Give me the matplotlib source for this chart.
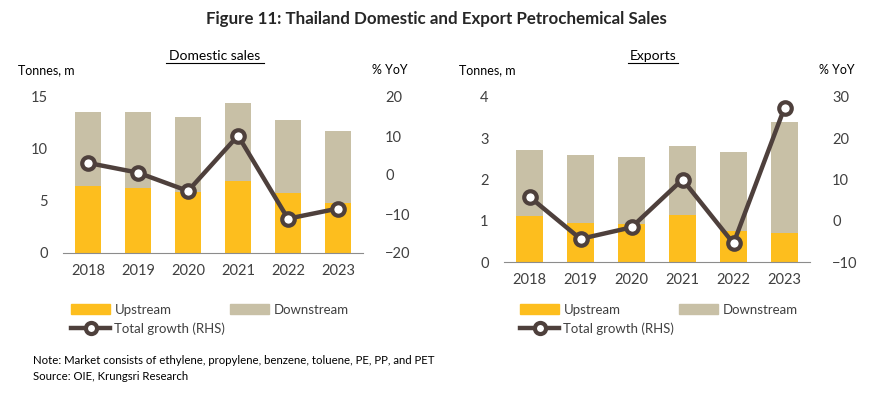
import matplotlib
matplotlib.use('Agg')
import matplotlib.pyplot as plt
from matplotlib.lines import Line2D
from matplotlib.patches import Patch
import numpy as np

plt.rcParams['font.family'] = ['Lato', 'DejaVu Sans']

years = ['2018', '2019', '2020', '2021', '2022', '2023']

# Domestic sales (tonnes, m) and growth (% YoY)
dom_total = [13.55, 13.6, 13.1, 14.4, 12.8, 11.7]
dom_up = [6.45, 6.25, 5.9, 6.9, 5.8, 4.8]
dom_growth = [3.1, 0.6, -4.1, 10.1, -11.2, -8.6]

# Exports (tonnes, m) and growth (% YoY)
exp_total = [2.71, 2.59, 2.55, 2.81, 2.67, 3.40]
exp_up = [1.12, 0.94, 0.92, 1.14, 0.74, 0.71]
exp_growth = [5.8, -4.4, -1.6, 10.0, -5.5, 27.4]

UP = '#FDBE1E'
DOWN = '#C8C0A6'
LINE = '#4E403C'
TXT = '#404040'

W, H = 870, 395


def px_axes(fig, x0, x1, ytop, ybot):
    return fig.add_axes([x0 / W, (H - ybot) / H, (x1 - x0) / W, (ybot - ytop) / H])


def panel(fig, box, up, total, growth, ylim, yticks, rlim, rticks, title, title_x):
    ax = px_axes(fig, *box)
    x = np.arange(len(years))
    down = [t - u for t, u in zip(total, up)]
    ax.bar(x, up, width=0.52, color=UP, zorder=2)
    ax.bar(x, down, bottom=up, width=0.52, color=DOWN, zorder=2)
    ax.set_xlim(-0.5, 5.5)
    ax.set_ylim(*ylim)
    ax.set_yticks(yticks)
    ax.set_xticks(x)
    ax.set_xticklabels(years)
    for s in ['top', 'right', 'left']:
        ax.spines[s].set_visible(False)
    ax.spines['bottom'].set_color('#8C8C8C')
    ax.tick_params(length=0, labelsize=10.5, colors=TXT, pad=11)
    ax.tick_params(axis='x', pad=8)

    ax2 = ax.twinx()
    ax2.plot(x, growth, color=LINE, lw=3.2, marker='o', ms=9, mfc='white',
             mec=LINE, mew=3, zorder=3)
    ax2.set_ylim(*rlim)
    ax2.set_yticks(rticks)
    for s in ['top', 'right', 'left', 'bottom']:
        ax2.spines[s].set_visible(False)
    ax2.tick_params(length=0, labelsize=10.5, colors=TXT, pad=16)

    x0, x1, ytop, ybot = box
    fig.text(title_x / W, 1 - 56 / H, title, ha='center', va='center',
             fontsize=10, color='black')
    fig.text((x0 - 45) / W, 1 - 70 / H, 'Tonnes, m', ha='left', va='center',
             fontsize=9, color='black')
    fig.text((x1 + 9) / W, 1 - 70 / H, '% YoY', ha='left', va='center',
             fontsize=9, color='black')
    return ax, ax2


fig = plt.figure(figsize=(W / 100, H / 100), dpi=100)

panel(fig, (63, 363, 97, 253), dom_up, dom_total, dom_growth,
      (0, 15), [0, 5, 10, 15], (-20, 20), [-20, -10, 0, 10, 20],
      'Domestic sales', 215)
panel(fig, (504, 810, 97, 262), exp_up, exp_total, exp_growth,
      (0, 4), [0, 1, 2, 3, 4], (-10, 30), [-10, 0, 10, 20, 30],
      'Exports', 653)

# underline the subtitles
for cx, wd in [(215, 97), (653, 50)]:
    fig.add_artist(Line2D([(cx - wd / 2) / W, (cx + wd / 2) / W],
                          [1 - 63 / H, 1 - 63 / H], color='black', lw=0.8))

fig.text(436 / W, 1 - 19 / H, 'Figure 11: Thailand Domestic and Export Petrochemical Sales',
         ha='center', va='center', fontsize=12.2, fontweight='bold', color='#262626')

handles = [Patch(color=UP, label='Upstream'),
           Line2D([0], [0], color=LINE, lw=3.2, marker='o', ms=8, mfc='white',
                  mec=LINE, mew=3, label='Total growth (RHS)'),
           Patch(color=DOWN, label='Downstream')]
for lx in [59, 508]:
    fig.legend(handles=handles, ncol=2, loc='upper left',
               bbox_to_anchor=(lx / W, 1 - 292 / H), frameon=False,
               fontsize=9.5, handlelength=3, handleheight=0.8, handletextpad=0.3,
               columnspacing=0.35, labelspacing=0.5, labelcolor=TXT)

fig.text(33 / W, 1 - 361 / H,
         'Note: Market consists of ethylene, propylene, benzene, toluene, PE, PP, and PET',
         ha='left', va='center', fontsize=8.2)
fig.text(33 / W, 1 - 377 / H, 'Source: OIE, Krungsri Research',
         ha='left', va='center', fontsize=8.2)

fig.savefig('out.png', dpi=100)
